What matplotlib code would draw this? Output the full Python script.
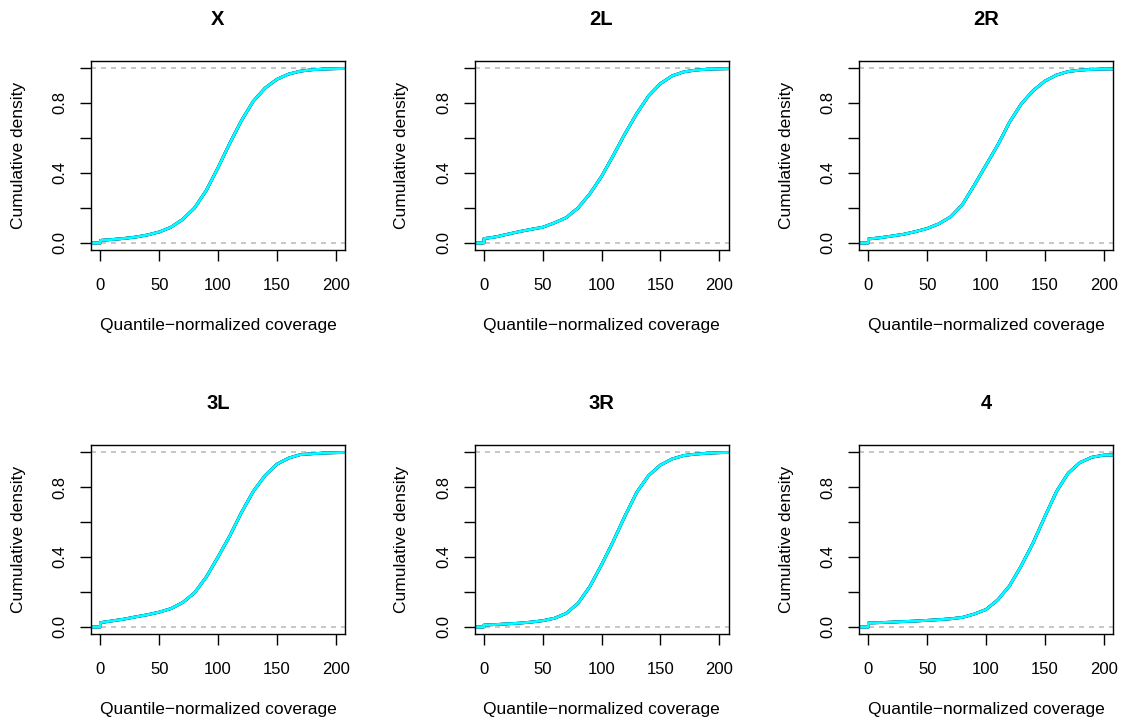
import matplotlib.pyplot as plt
import numpy as np

plt.rcParams['font.family'] = ['Liberation Sans', 'DejaVu Sans']

# coverage grid (x) and cumulative density
coverage = [0, 10, 20, 30, 40, 50, 60, 70, 80, 90, 100,
            110, 120, 130, 140, 150, 160, 170, 180, 190, 200]

chroms = ["X", "2L", "2R", "3L", "3R", "4"]

cdf_X = [0.015, 0.020, 0.026, 0.034, 0.046, 0.063, 0.090, 0.135, 0.200, 0.300, 0.430,
         0.570, 0.700, 0.810, 0.885, 0.935, 0.965, 0.982, 0.990, 0.994, 0.996]
cdf_2L = [0.025, 0.035, 0.050, 0.065, 0.078, 0.090, 0.115, 0.145, 0.200, 0.280, 0.380,
          0.500, 0.625, 0.740, 0.840, 0.910, 0.955, 0.978, 0.988, 0.993, 0.995]
cdf_2R = [0.023, 0.030, 0.040, 0.050, 0.065, 0.083, 0.110, 0.150, 0.220, 0.330, 0.445,
          0.560, 0.690, 0.795, 0.870, 0.925, 0.960, 0.980, 0.988, 0.992, 0.994]
cdf_3L = [0.025, 0.035, 0.045, 0.058, 0.070, 0.085, 0.105, 0.140, 0.195, 0.285, 0.400,
          0.520, 0.655, 0.775, 0.865, 0.930, 0.965, 0.985, 0.990, 0.994, 0.996]
cdf_3R = [0.011, 0.014, 0.018, 0.022, 0.028, 0.036, 0.050, 0.078, 0.135, 0.230, 0.355,
          0.490, 0.635, 0.770, 0.865, 0.925, 0.960, 0.980, 0.988, 0.993, 0.996]
cdf_4 = [0.023, 0.025, 0.028, 0.031, 0.034, 0.038, 0.042, 0.047, 0.055, 0.074, 0.100,
         0.155, 0.235, 0.350, 0.480, 0.630, 0.775, 0.880, 0.940, 0.970, 0.982]

cdfs = [cdf_X, cdf_2L, cdf_2R, cdf_3L, cdf_3R, cdf_4]

# one line per sample, drawn in rainbow order; cyan ends up on top
sample_colors = ["#FF0000", "#00FF00", "#0000FF", "#00FFFF"]

fig = plt.figure(figsize=(11.23, 7.25), dpi=100)

lefts = [91 / 1123, 474.5 / 1123, 859 / 1123]
bottoms = [1 - 250 / 725, 1 - 634 / 725]
w = 254 / 1123
h = 189 / 725

for i in range(6):
    ax = fig.add_axes([lefts[i % 3], bottoms[i // 3], w, h])
    x = np.array([-10, 0] + coverage + [215])
    y = np.array([0, 0] + cdfs[i] + [cdfs[i][-1] + 0.002])

    ax.axhline(0, color="#BEBEBE", lw=1.2, dashes=(3, 3), zorder=1)
    ax.axhline(1, color="#BEBEBE", lw=1.2, dashes=(3, 3), zorder=1)
    for c in sample_colors:
        ax.plot(x, y, color=c, lw=2.0, solid_capstyle="butt", zorder=2)

    ax.set_xlim(-8, 208)
    ax.set_ylim(-0.04, 1.04)
    ax.set_xticks([0, 50, 100, 150, 200])
    ax.set_yticks([0, 0.2, 0.4, 0.6, 0.8, 1.0])
    ax.set_yticklabels(["0.0", "", "0.4", "", "0.8", ""])
    ax.tick_params(axis="both", length=8, width=1, labelsize=12)
    ax.tick_params(axis="x", pad=12)
    ax.tick_params(axis="y", pad=9)
    for lab in ax.get_yticklabels():
        lab.set_rotation(90)
        lab.set_va("center")
    for sp in ax.spines.values():
        sp.set_linewidth(1)

    ax.text(0.5, 1.222, chroms[i], transform=ax.transAxes, ha="center", va="center",
            fontsize=14.5, fontweight="bold")
    ax.text(0.5, -0.397, "Quantile\u2212normalized coverage", transform=ax.transAxes,
            ha="center", va="center", fontsize=12.5)
    ax.text(-0.287, 0.5, "Cumulative density", transform=ax.transAxes,
            ha="center", va="center", rotation=90, fontsize=12.5)

plt.savefig("out.png", dpi=100)
